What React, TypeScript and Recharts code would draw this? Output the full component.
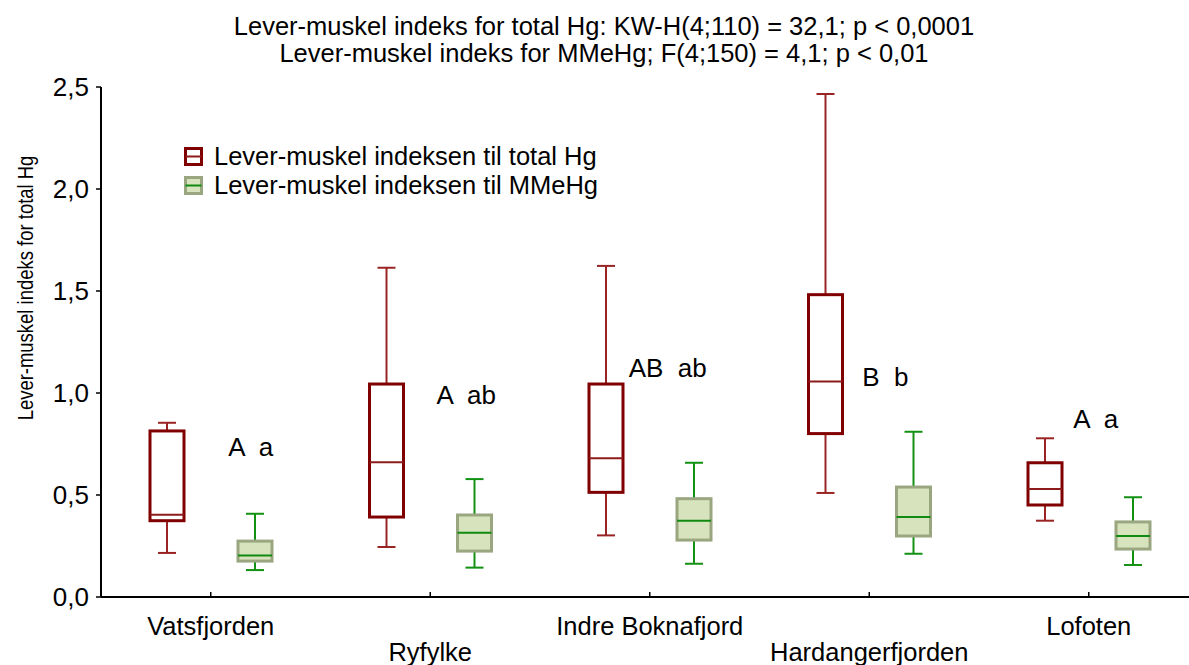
import React from "react";
import { ComposedChart, Bar, Scatter, XAxis, YAxis } from "recharts";

// Fjord regions on the x axis
const regions = [
  "Vatsfjorden",
  "Ryfylke",
  "Indre Boknafjord",
  "Hardangerfjorden",
  "Lofoten",
];

// Liver–muscle index, total Hg (min, Q1, median, Q3, max)
const hgMin = [0.216, 0.245, 0.302, 0.51, 0.374];
const hgQ1 = [0.374, 0.392, 0.513, 0.801, 0.451];
const hgMedian = [0.403, 0.66, 0.68, 1.056, 0.529];
const hgQ3 = [0.814, 1.044, 1.044, 1.482, 0.658];
const hgMax = [0.854, 1.614, 1.623, 2.466, 0.778];

// Liver–muscle index, MMeHg
const meMin = [0.132, 0.144, 0.163, 0.212, 0.157];
const meQ1 = [0.176, 0.225, 0.279, 0.299, 0.235];
const meMedian = [0.204, 0.315, 0.374, 0.392, 0.299];
const meQ3 = [0.274, 0.402, 0.482, 0.539, 0.368];
const meMax = [0.408, 0.578, 0.658, 0.81, 0.489];

// post-hoc group letters and the index level they sit at
const groupLetters = ["A  a", "A  ab", "AB  ab", "B  b", "A  a"];
const groupLetterY = [0.735, 0.99, 1.123, 1.078, 0.873];

const yTicks = [0, 0.5, 1.0, 1.5, 2.0, 2.5];

const titleLines = [
  "Lever-muskel indeks for total Hg: KW-H(4;110) = 32,1; p < 0,0001",
  "Lever-muskel indeks for MMeHg; F(4;150) = 4,1; p < 0,01",
];

const legendItems = [
  "Lever-muskel indeksen til total Hg",
  "Lever-muskel indeksen til MMeHg",
];

const data = regions.map((name, i) => ({
  name,
  hg: [hgMin[i], hgMax[i]],
  hgMin: hgMin[i],
  hgQ1: hgQ1[i],
  hgMedian: hgMedian[i],
  hgQ3: hgQ3[i],
  hgMax: hgMax[i],
  me: [meMin[i], meMax[i]],
  meMin: meMin[i],
  meQ1: meQ1[i],
  meMedian: meMedian[i],
  meQ3: meQ3[i],
  meMax: meMax[i],
  letters: groupLetters[i],
  letterY: groupLetterY[i],
}));

// horizontal nudge of the letters away from the category centre
const letterDx = [40, 36, 18, 16, 7];

const FONT = "'Liberation Sans', Arial, sans-serif";
const FS = 25.5;

const RED = {
  box: "#800000",
  fill: "#ffffff",
  median: "#8e1b1b",
  whisker: "#9a2424",
};
const GREEN = {
  box: "#9aa680",
  fill: "#d7e3bd",
  median: "#118a11",
  whisker: "#129112",
};

type BoxStyle = typeof RED;

// whole box plot drawn inside the [min, max] range bar
function BoxPlot(props: any) {
  const { x, y, width, height, payload, prefix, colors } = props as {
    x: number;
    y: number;
    width: number;
    height: number;
    payload: any;
    prefix: string;
    colors: BoxStyle;
  };
  const lo = payload[prefix + "Min"];
  const hi = payload[prefix + "Max"];
  const py = (v: number) => y + ((hi - v) / (hi - lo)) * height;
  const cx = x + width / 2;
  const cap = 9;
  const q1 = py(payload[prefix + "Q1"]);
  const q3 = py(payload[prefix + "Q3"]);
  const med = py(payload[prefix + "Median"]);
  return (
    <g>
      <line x1={cx} x2={cx} y1={py(hi)} y2={q3} stroke={colors.whisker} strokeWidth={2} />
      <line x1={cx} x2={cx} y1={q1} y2={py(lo)} stroke={colors.whisker} strokeWidth={2} />
      <line x1={cx - cap} x2={cx + cap} y1={py(hi)} y2={py(hi)} stroke={colors.whisker} strokeWidth={2} />
      <line x1={cx - cap} x2={cx + cap} y1={py(lo)} y2={py(lo)} stroke={colors.whisker} strokeWidth={2} />
      <rect
        x={x}
        y={q3}
        width={width}
        height={q1 - q3}
        fill={colors.fill}
        stroke={colors.box}
        strokeWidth={3}
      />
      <line x1={x} x2={x + width} y1={med} y2={med} stroke={colors.median} strokeWidth={2} />
    </g>
  );
}

function BottomTick(props: any) {
  const { x, y, payload, index } = props;
  return (
    <g>
      <line x1={x} x2={x} y1={y} y2={y - 5} stroke="#000" strokeWidth={1.5} />
      <text
        x={x}
        y={y + (index % 2 ? 55 : 29)}
        textAnchor="middle"
        dominantBaseline="central"
        fontSize={FS}
        fontFamily={FONT}
        fill="#000"
      >
        {payload.value}
      </text>
    </g>
  );
}

function TopTick(props: any) {
  const { x, y } = props;
  return <line x1={x} x2={x} y1={y} y2={y + 5} stroke="#000" strokeWidth={1.5} />;
}

function LetterMark(props: any) {
  const { cx, cy, payload, index } = props;
  return (
    <text
      x={cx + letterDx[index]}
      y={cy}
      textAnchor="middle"
      dominantBaseline="central"
      fontSize={26}
      fontFamily={FONT}
      fill="#000"
      style={{ whiteSpace: "pre" }}
    >
      {payload.letters}
    </text>
  );
}

function LegendBox() {
  const swatches = [RED, GREEN];
  return (
    <div
      style={{
        position: "absolute",
        left: 184,
        top: 142,
        fontFamily: FONT,
        fontSize: FS,
        color: "#000",
      }}
    >
      {legendItems.map((label, i) => (
        <div
          key={label}
          style={{ display: "flex", alignItems: "center", height: 29, whiteSpace: "nowrap" }}
        >
          <svg width={30} height={20} style={{ flex: "none" }}>
            <rect
              x={1.5}
              y={1.5}
              width={16}
              height={16}
              fill={swatches[i].fill}
              stroke={swatches[i].box}
              strokeWidth={3}
            />
            <line x1={1.5} x2={17.5} y1={9.5} y2={9.5} stroke={swatches[i].median} strokeWidth={2} />
          </svg>
          <span>{label}</span>
        </div>
      ))}
    </div>
  );
}

export default function App() {
  return (
    <div
      style={{
        position: "absolute",
        left: 0,
        top: 0,
        width: 1189,
        height: 665,
        overflow: "hidden",
        background: "#fff",
      }}
    >
      <ComposedChart
        width={1210}
        height={665}
        data={data}
        margin={{ top: 87, right: 11.5, left: 0, bottom: 0 }}
        barSize={34}
        barGap={54}
      >
        <XAxis
          dataKey="name"
          height={68}
          interval={0}
          tickSize={0}
          tickMargin={0}
          tickLine={false}
          axisLine={{ stroke: "#000", strokeWidth: 2 }}
          tick={<BottomTick />}
        />
        <XAxis
          xAxisId="top"
          dataKey="name"
          orientation="top"
          height={0}
          interval={0}
          tickSize={0}
          tickMargin={0}
          tickLine={false}
          axisLine={{ stroke: "#222", strokeWidth: 2 }}
          tick={<TopTick />}
        />
        <YAxis
          width={101}
          domain={[0, 2.5]}
          ticks={yTicks}
          allowDataOverflow
          tickSize={5}
          tickMargin={7}
          tickFormatter={(v: number) => v.toFixed(1).replace(".", ",")}
          tick={{ fontSize: 26, fill: "#000", fontFamily: FONT }}
          tickLine={{ stroke: "#000", strokeWidth: 1.5 }}
          axisLine={{ stroke: "#000", strokeWidth: 2 }}
        />
        <Bar
          dataKey="hg"
          isAnimationActive={false}
          shape={(p: any) => <BoxPlot {...p} prefix="hg" colors={RED} />}
        />
        <Bar
          dataKey="me"
          isAnimationActive={false}
          shape={(p: any) => <BoxPlot {...p} prefix="me" colors={GREEN} />}
        />
        <Scatter dataKey="letterY" isAnimationActive={false} shape={<LetterMark />} />
        <text
          x={604}
          y={26}
          textAnchor="middle"
          dominantBaseline="central"
          fontSize={FS}
          fontFamily={FONT}
          fill="#000"
        >
          {titleLines[0]}
        </text>
        <text
          x={604}
          y={53}
          textAnchor="middle"
          dominantBaseline="central"
          fontSize={FS}
          fontFamily={FONT}
          fill="#000"
        >
          {titleLines[1]}
        </text>
        {/* condensed axis title along the value axis */}
        <text
          transform="translate(25 288) rotate(-90) scale(0.84 1)"
          textAnchor="middle"
          dominantBaseline="central"
          fontSize={22}
          fontFamily={FONT}
          fill="#000"
        >
          Lever-muskel indeks for total Hg
        </text>
      </ComposedChart>
      <LegendBox />
    </div>
  );
}
